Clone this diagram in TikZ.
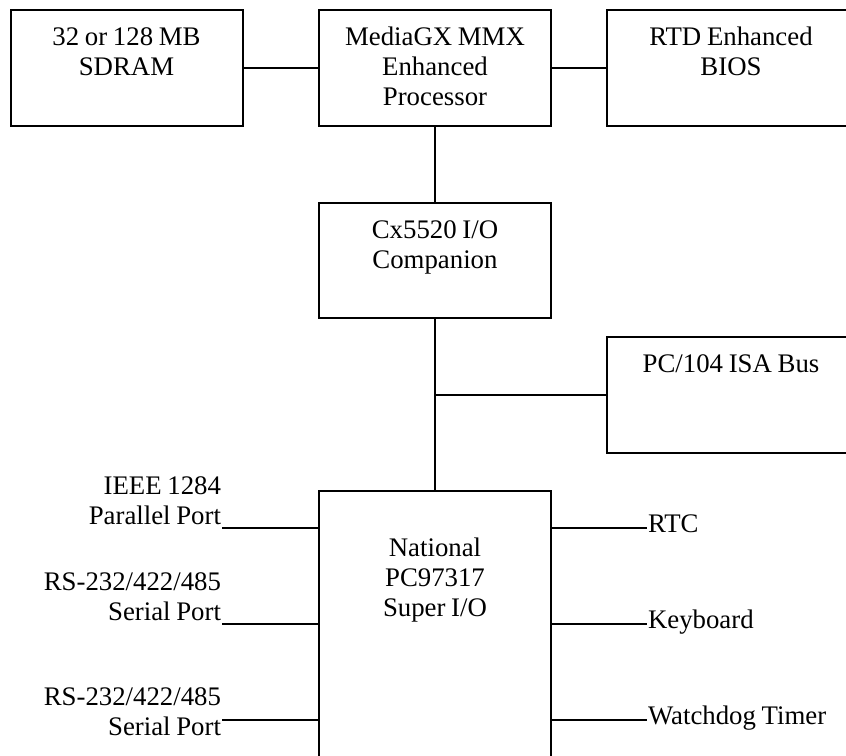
\documentclass[tikz,border=0pt]{standalone}
\usepackage{fontspec}
\setmainfont{Liberation Serif}[WordSpace=0.85]
\usetikzlibrary{positioning}
\tikzset{
  every node/.style={
    font=\fontsize{13.4pt}{15pt}\selectfont,
    inner sep=0pt
  },
  block/.style={
    draw, align=flush center, text width=116pt,
    text height=17.5pt, text depth=40.5pt
  },
  wide block/.style={block, text width=124pt},
  port/.style={text width=100pt, align=flush right}
}

\begin{document}
\begin{tikzpicture}[line width=1pt]
      \path[use as bounding box, clip] (0,0) rectangle (423pt,-377.5pt);
      \node [block] at (217.5pt,-34pt) (Cpu) {MediaGX MMX\\Enhanced\\Processor};
      \node [block, on grid, left=154.25pt of Cpu] (Sdram) {32 or 128 MB\\SDRAM};
      \node [wide block, on grid, right=148pt of Cpu] (Bios) {RTD Enhanced\\BIOS};
      \node [block, on grid, below=96.25pt of Cpu, text depth=40pt] (Cx) {Cx5520 I/O\\Companion};
      \node [wide block, on grid, below right=67.25pt and 148pt of Cx] (Isa) {PC/104 ISA Bus};
      \node [block, on grid, below=182.5pt of Cx, text height=32.5pt, text depth=102pt] (Super) {National\\PC97317\\Super I/O};
      \draw (Sdram) to (Cpu);
      \draw (Cpu) to (Bios);
      \draw (Cpu) to (Cx);
      \draw (Cx) to (Super);
      \draw (Isa) to (Isa -| Cx);
      \coordinate [below=19pt of Super.north west] (PortA);
      \coordinate [below=67pt of Super.north west] (PortB);
      \coordinate [below=115pt of Super.north west] (PortC);
      \coordinate [below=19pt of Super.north east] (PortD);
      \coordinate [below=67pt of Super.north east] (PortE);
      \coordinate [below=115pt of Super.north east] (PortF);
      \node [port, anchor=base east] at ([shift={(-48pt,16.65pt)}]PortA) (Parallel) {IEEE 1284\\Parallel Port};
      \node [port, anchor=base east] at ([shift={(-48pt,16.65pt)}]PortB) (SerialA) {RS-232/422/485\\Serial Port};
      \node [port, anchor=base east] at ([shift={(-48pt,7.15pt)}]PortC) (SerialB) {RS-232/422/485\\Serial Port};
      \node [anchor=base west] at ([shift={(47.5pt,-2pt)}]PortD) (Rtc) {RTC};
      \node [anchor=base west] at ([shift={(47.5pt,-2pt)}]PortE) (Keyboard) {Keyboard};
      \node [anchor=base west] at ([shift={(47.5pt,-2pt)}]PortF) (Watchdog) {Watchdog Timer};
      \draw (Parallel.east |- PortA) to (PortA);
      \draw (SerialA.east |- PortB) to (PortB);
      \draw (SerialB.east |- PortC) to (PortC);
      \draw (PortD) to (Rtc.west |- PortD);
      \draw (PortE) to (Keyboard.west |- PortE);
      \draw (PortF) to (Watchdog.west |- PortF);
    \end{tikzpicture}
\end{document}
